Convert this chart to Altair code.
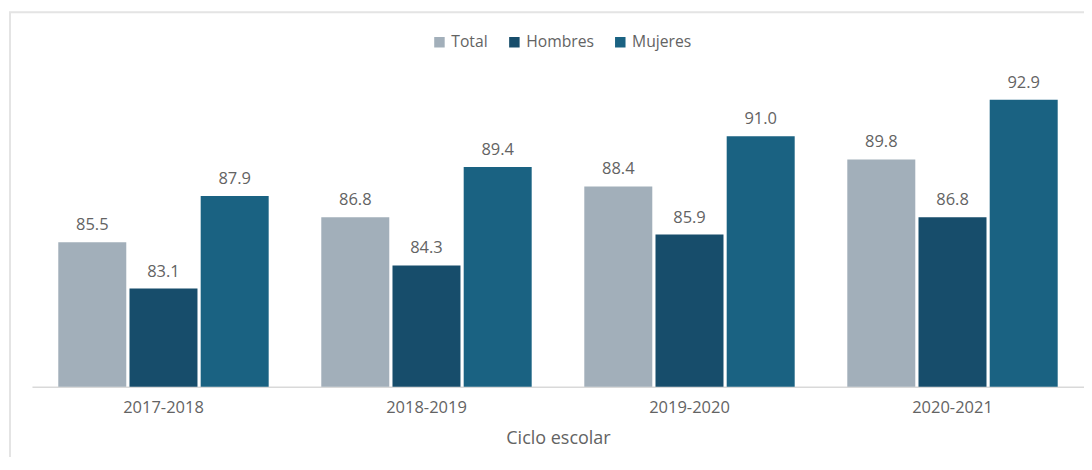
import altair as alt
import pandas as pd

ciclos = ["2017-2018", "2018-2019", "2019-2020", "2020-2021"]
series = ["Total", "Hombres", "Mujeres"]
total = [85.5, 86.8, 88.4, 89.8]
hombres = [83.1, 84.3, 85.9, 86.8]
mujeres = [87.9, 89.4, 91.0, 92.9]
colors = ["#A2AFBA", "#174D6B", "#1A6282"]

rows = []
for i, c in enumerate(ciclos):
    for s, vals in zip(series, [total, hombres, mujeres]):
        rows.append({"Ciclo": c, "Serie": s, "Valor": vals[i]})
df = pd.DataFrame(rows)

FONT = "Open Sans"
TXT = "#636363"
W, H = 1053, 328

x = alt.X("Ciclo:N", sort=ciclos,
          scale=alt.Scale(paddingInner=0.2, paddingOuter=0.1),
          axis=alt.Axis(title="Ciclo escolar", labelAngle=0, ticks=False,
                        domainColor="#D9D9D9", domainWidth=1.5,
                        labelFont=FONT, labelFontSize=16.5, labelColor=TXT,
                        labelPadding=13, titleFont=FONT, titleFontSize=18,
                        titleFontWeight="normal", titleColor=TXT,
                        titlePadding=13))
xo = alt.XOffset("Serie:N", sort=series,
                 scale=alt.Scale(paddingInner=0.045, paddingOuter=0))
y = alt.Y("Valor:Q", scale=alt.Scale(domain=[78, 95], zero=False, nice=False),
          axis=None)

border = alt.Chart(pd.DataFrame({"a": [0]})).mark_rect(
    fill="transparent", stroke="#E4E4E4", strokeWidth=2
).encode(x=alt.value(-22), x2=alt.value(1200), y=alt.value(-47), y2=alt.value(600))

bars = alt.Chart(df).mark_bar().encode(
    x=x, xOffset=xo, y=y,
    y2=alt.datum(78),
    color=alt.Color("Serie:N", sort=series,
                    scale=alt.Scale(domain=series, range=colors),
                    legend=alt.Legend(title=None, orient="none", direction="horizontal",
                                      legendX=400, legendY=-25,
                                      symbolType="square", symbolSize=110,
                                      symbolStrokeWidth=0,
                                      labelFont=FONT, labelFontSize=15.7,
                                      labelColor=TXT, columnPadding=18,
                                      labelOffset=4)),
)

labels = alt.Chart(df).mark_text(
    dy=-12, baseline="alphabetic", font=FONT, fontSize=16.5, color=TXT
).encode(x=x, xOffset=xo, y=y, text=alt.Text("Valor:Q", format=".1f"))

chart = alt.layer(border, bars, labels).properties(
    width=W, height=H,
    autosize=alt.AutoSizeParams(type="none"),
    padding={"left": 24, "top": 51, "right": 0, "bottom": 70},
).configure_view(stroke=None)

chart.save("out.html", embed_options={"renderer": "svg", "actions": False})
